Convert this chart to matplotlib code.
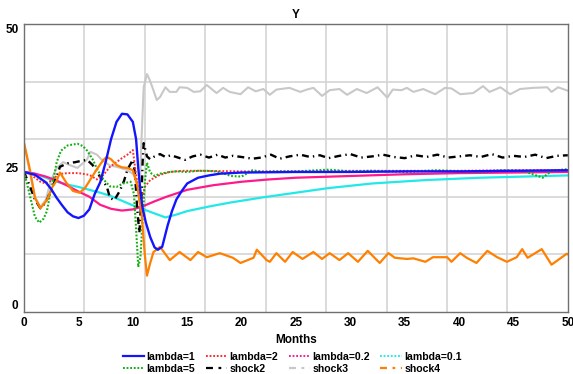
import matplotlib.pyplot as plt
from matplotlib.lines import Line2D

plt.rcParams['font.family'] = ['Liberation Sans', 'DejaVu Sans']
plt.rcParams['font.weight'] = 'bold'
plt.rcParams['lines.scale_dashes'] = False

# lambda=1
t_l1 = [0, 1, 2, 2.5, 3, 3.5, 4, 4.5, 5, 5.5, 6, 6.5, 7, 7.5, 8, 8.5, 9, 9.5, 10, 10.3,
        10.5, 10.7, 10.9, 11.2, 11.6, 12.0, 12.3, 12.7, 13.2, 13.6, 14, 14.5, 15, 16, 17, 18,
        20, 25, 30, 35, 40, 45, 50]
y_l1 = [24.3, 23.8, 22.5, 21.3, 19.8, 18.5, 17.3, 16.6, 16.3, 16.7, 17.8, 20.5, 22.5, 26, 30,
        33, 34.4, 34.3, 33, 30, 25, 21, 18, 15.5, 13, 11.2, 10.8, 11.3, 15, 17.5, 19.5, 21,
        22.3, 23.3, 23.7, 24, 24.2, 24.3, 24.3, 24.4, 24.4, 24.5, 24.6]

# lambda=2
t_l2 = [0, 0.5, 1, 1.5, 2, 2.5, 3, 3.5, 4, 5, 6, 6.7, 7.3, 7.9, 8.5, 9, 9.5, 10, 10.2, 10.5,
        10.8, 11.1, 11.6, 12.5, 13.4, 14.5, 16, 20, 25, 30, 35, 40, 45, 50]
y_l2 = [24.3, 24, 23.3, 22.6, 22.3, 22.8, 23.6, 24, 24.1, 24.1, 23.8, 23.0, 23.8, 25.2, 26,
        26.7, 27.3, 28.1, 25.2, 21.2, 19.4, 21.7, 22.9, 23.8, 24.3, 24.5, 24.5, 24.4, 24.4,
        24.5, 24.5, 24.5, 24.6, 24.6]

# lambda=0.2
t_l02 = [0, 1, 2, 3, 4, 5, 6, 7, 8, 9, 10, 11, 12, 13.1, 15, 17.4, 20, 22.5, 25, 30, 35, 40,
         45, 50]
y_l02 = [24.3, 24.0, 23.5, 22.8, 21.9, 20.9, 20.0, 18.6, 17.9, 17.6, 17.8, 18.4, 19.2, 20.0,
         21.2, 22.0, 22.6, 23.0, 23.3, 23.6, 23.9, 24.1, 24.2, 24.3]

# lambda=0.1
t_l01 = [0, 1, 2, 3, 4, 5, 6, 7, 8, 9, 10, 11, 12, 13, 14, 15, 17, 19, 22, 25, 28, 32, 37, 42,
         46, 50]
y_l01 = [24.3, 24.0, 23.3, 22.6, 22.1, 21.7, 21.2, 20.7, 20.1, 19.3, 18.5, 17.8, 17.1, 16.4,
         16.9, 17.5, 18.3, 19.0, 19.9, 20.7, 21.5, 22.3, 22.9, 23.3, 23.5, 23.7]

# lambda=5
t_l5 = [0, 0.5, 1.0, 1.4, 1.8, 2.1, 2.4, 2.7, 3.0, 3.4, 4.0, 4.9, 5.4, 5.8, 6.3, 6.8, 7.3,
        7.9, 8.5, 9.1, 9.8, 10.1, 10.3, 10.5, 10.7, 10.9, 11.1, 11.3, 11.6, 12.0, 12.5, 13.4,
        14, 15, 16, 17, 18, 19, 20, 21, 22, 23, 25, 28, 30, 32, 35, 38, 40, 42, 44, 46, 47.7,
        48.5, 50]
y_l5 = [24.3, 20.5, 16.5, 15.5, 16.2, 17.5, 20.5, 23, 26, 28, 28.9, 29.2, 28.8, 28, 26.5, 24.5,
        23, 21.8, 21.7, 22.3, 22.6, 20.5, 14.5, 7.8, 9.5, 16, 22.4, 25.9, 24.2, 23.6, 24.0,
        24.3, 24.4, 24.3, 24.5, 24.5, 24.3, 23.6, 23.5, 24.6, 24.3, 24.4, 24.4, 24.7, 24.4,
        24.5, 24.3, 24.6, 24.4, 24.3, 24.6, 24.4, 23.3, 24.5, 24.8]

# shock2
t_s2 = [0, 0.5, 1.0, 1.5, 2.0, 2.6, 3.0, 3.3, 4.0, 4.7, 5.2, 5.8, 6.3, 6.7, 7.2, 7.6, 7.9, 8.3,
        8.8, 9.2, 9.5, 10.0, 10.2, 10.4, 10.6, 10.8, 10.9, 11.0, 11.3, 11.6, 12.0, 12.5, 13.0,
        13.5, 14.0, 14.8, 15.5, 16.2, 17.0, 17.8, 18.5, 19.2, 20.0, 21.0, 21.8, 22.7, 23.5,
        24.4, 25.4, 26.3, 27.2, 28.0, 29.0, 30.0, 31.0, 32.0, 33.0, 34.0, 35.0, 36.0, 37.0,
        38.0, 39.0, 40.0, 41.0, 42.0, 43.0, 44.0, 45.0, 46.0, 47.0, 48.0, 49.0, 50.0]
y_s2 = [24.3, 22, 19.5, 18, 19, 21.7, 23.5, 25.2, 25.8, 26, 26.2, 26.4, 25.5, 24.3, 22.8, 21.8,
        19.8, 19.4, 21, 22.8, 24.7, 26.4, 24, 18, 13.7, 20, 26, 29.3, 27, 26.5, 27, 27.4, 26.9,
        27.2, 26.9, 26.4, 27.0, 27.3, 26.8, 27.3, 26.8, 27.1, 26.9, 26.6, 26.8, 27.3, 26.6,
        27.0, 27.3, 26.9, 27.2, 26.7, 27.1, 27.4, 26.8, 27.0, 27.3, 26.9, 26.7, 27.2, 26.9,
        27.3, 26.8, 27.0, 27.2, 26.9, 27.4, 26.8, 27.1, 26.9, 27.3, 26.7, 27.1, 27.2]

# shock3
t_s3 = [0, 0.5, 1.0, 1.5, 2.0, 2.5, 3.0, 3.6, 4.2, 4.9, 5.4, 5.8, 6.1, 6.7, 7.1, 7.9, 8.5, 9.4,
        10.0, 10.4, 10.6, 10.8, 11.0, 11.3, 11.5, 11.8, 12.2, 12.5, 13.0, 13.4, 14.0, 14.3,
        15.0, 15.6, 16.2, 16.8, 17.7, 18.3, 18.9, 19.9, 20.6, 21.3, 22.0, 22.6, 23.2, 24.4,
        25.4, 26.0, 26.6, 27.4, 28.1, 29.0, 29.7, 30.6, 31.5, 32.5, 33.4, 33.9, 34.7, 35.2,
        35.8, 36.7, 37.8, 38.7, 39.3, 40.1, 41.3, 42.2, 42.8, 43.8, 44.7, 45.6, 46.8, 48.1,
        48.5, 49.1, 50]
y_s3 = [29.3, 24.5, 20, 18.2, 19.5, 23, 25, 26, 25.5, 25, 25.8, 26.5, 27.8, 27.3, 26.5, 25.4,
        25.2, 24.7, 24, 22.9, 19, 30, 39, 41.3, 40.5, 39, 36.8, 37.3, 39, 38.2, 38.2, 39, 38.9,
        38.2, 38.3, 39.4, 38, 38.9, 38.2, 37.8, 39, 38.3, 38.7, 37.7, 38.6, 38.9, 38.2, 38.6,
        38.9, 37.5, 38.5, 38.7, 37.7, 38.7, 38, 39, 37.2, 38.6, 38.5, 38.9, 38.2, 38.7, 37.8,
        38.9, 38.8, 37.8, 38, 39.2, 38.2, 39, 37.8, 38.7, 38.9, 39, 38.2, 39, 38.4]

# shock4
t_s4 = [0, 0.55, 1.0, 1.5, 2.1, 2.6, 3.0, 3.3, 3.9, 4.5, 5.1, 5.6, 6.1, 6.7, 7.3, 7.6, 8.0, 8.5,
        9.0, 9.5, 10.0, 10.4, 10.8, 11.1, 11.3, 11.6, 11.9, 12.5, 13.4, 14.3, 15.3, 16.0, 16.8,
        18.0, 19.2, 19.9, 21.1, 21.4, 22.3, 22.6, 23.2, 24.0, 24.7, 25.6, 26.6, 27.4, 28.1,
        29.0, 29.8, 30.7, 31.6, 32.7, 33.5, 34.1, 35.2, 35.8, 36.9, 37.6, 38.9, 39.3, 40.1,
        40.7, 41.6, 42.6, 43.5, 44.4, 45.3, 45.8, 46.3, 47.6, 48.5, 49.9, 50]
y_s4 = [29.3, 24.6, 19.8, 18.0, 19.4, 21.7, 22.8, 24.2, 22.4, 21.0, 20.7, 21.5, 23, 24.8, 26.4,
        26.9, 26.5, 25.5, 25.1, 25.0, 24.6, 22, 17.2, 10, 6.3, 8.5, 10.4, 11.3, 9.0, 10.4, 9.0,
        10.4, 9.5, 10.2, 9.4, 8.5, 9.4, 10.8, 9.0, 8.7, 10.2, 8.7, 10.4, 9.2, 10.4, 9.2, 10.2,
        9.0, 10.2, 8.7, 10.6, 8.5, 10.2, 9.4, 9.2, 9.3, 8.7, 9.5, 9.5, 8.7, 10.2, 9.4, 8.5,
        10.6, 9.5, 8.7, 9.5, 10.9, 9.4, 10.9, 8.2, 10.1, 10.0]

x_ticks = [0, 5, 10, 15, 20, 25, 30, 35, 40, 45, 50]
y_ticks = [0, 25, 50]

fig = plt.figure(figsize=(5.73, 3.74), dpi=100)
ax = fig.add_axes([0.042, 0.166, 0.949, 0.770])

# grid (Vensim style: 9 vertical, 5 horizontal divisions)
for i in range(1, 9):
    ax.axvline(50 * i / 9, color='#d4d4d4', lw=1.2, zorder=0)
for i in range(1, 5):
    ax.axhline(10 * i, color='#d4d4d4', lw=1.2, zorder=0)

dot = (0, (1.3, 1.3))
ax.plot(t_s3, y_s3, color='#c8c8c8', lw=1.5)
ax.plot(t_l01, y_l01, color='#22e8e8', lw=1.6)
ax.plot(t_l02, y_l02, color='#ff1a8c', lw=1.6)
ax.plot(t_s2, y_s2, color='black', lw=1.7, linestyle=(0, (5, 3, 1, 3)))
ax.plot(t_l2, y_l2, color='#ff2a2a', lw=1.4, linestyle=dot)
ax.plot(t_l5, y_l5, color='#10b010', lw=1.5, linestyle=dot)
ax.plot(t_s4, y_s4, color='#ff8000', lw=1.6)
ax.plot(t_l1, y_l1, color='#1414ff', lw=1.7)

ax.set_xlim(0, 50)
ax.set_ylim(0, 50)
ax.set_xticks(x_ticks)
ax.set_yticks(y_ticks)
ax.tick_params(length=0, labelsize=8.5, pad=4)
for lab in ax.get_xticklabels() + ax.get_yticklabels():
    lab.set_fontweight('bold')
ylabs = ax.get_yticklabels()
ylabs[0].set_verticalalignment('bottom')
ylabs[2].set_verticalalignment('top')
for s in ax.spines.values():
    s.set_color('#707070')
    s.set_linewidth(1.0)

ax.set_title('Y', fontsize=8.5, fontweight='bold', pad=4)
ax.set_xlabel('Months', fontsize=8.5, fontweight='bold', labelpad=3)

# legend
dash = (0, (5, 4, 2, 4))
h = {
    'lambda=1': Line2D([], [], color='#1414ff', lw=1.6),
    'lambda=2': Line2D([], [], color='#ff2a2a', lw=1.4, linestyle=dot),
    'lambda=0.2': Line2D([], [], color='#ff1a8c', lw=1.4, linestyle=dot),
    'lambda=0.1': Line2D([], [], color='#22e8e8', lw=1.4, linestyle=dot),
    'lambda=5': Line2D([], [], color='#10b010', lw=1.4, linestyle=dot),
    'shock2': Line2D([], [], color='black', lw=1.6, linestyle=dash),
    'shock3': Line2D([], [], color='#c8c8c8', lw=1.6, linestyle=dash),
    'shock4': Line2D([], [], color='#ff8000', lw=1.6, linestyle=dash),
}
order = ['lambda=1', 'lambda=5', 'lambda=2', 'shock2', 'lambda=0.2', 'shock3',
         'lambda=0.1', 'shock4']
fig.legend([h[k] for k in order], order, ncol=4, loc='upper center',
           bbox_to_anchor=(0.51, 0.074), frameon=False,
           handlelength=2.0, handletextpad=0.25, columnspacing=1.0,
           labelspacing=0.2, borderpad=0, prop={'weight': 'bold', 'size': 7.6})

fig.savefig('out.png', dpi=100)
